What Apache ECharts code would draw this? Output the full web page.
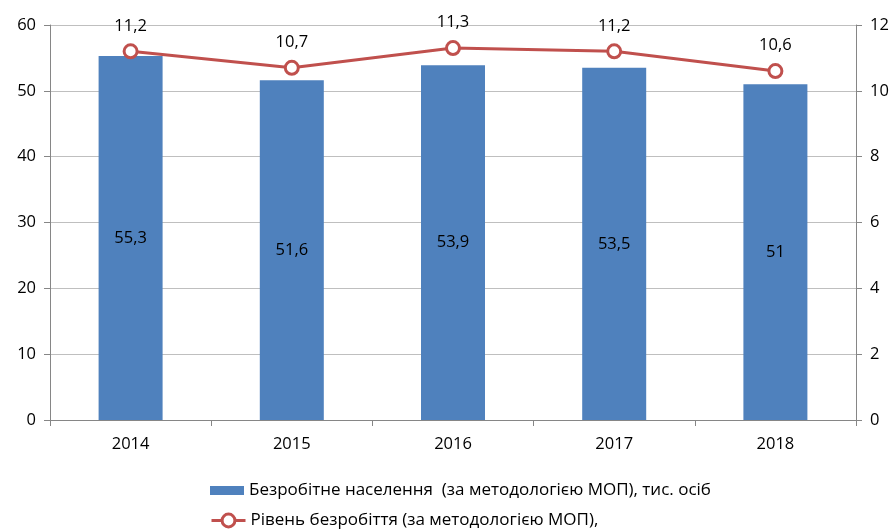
<!DOCTYPE html>
<html>
<head>
<meta charset="utf-8">
<script src="https://cdn.jsdelivr.net/npm/echarts@6/dist/echarts.min.js"></script>
<style>
html,body{margin:0;padding:0;background:#fff;}
#chart{width:894px;height:529px;}
</style>
</head>
<body>
<div id="chart"></div>
<script>
var categories = ['2014', '2015', '2016', '2017', '2018'];
var unemployed = [55.3, 51.6, 53.9, 53.5, 51];
var rate = [11.2, 10.7, 11.3, 11.2, 10.6];
var barName = 'Безробітне населення  (за методологією МОП), тис. осіб';
var lineName = 'Рівень безробіття (за методологією МОП),';

var FONT = '"Open Sans", "DejaVu Sans", sans-serif';
var FS = 16.5;
function comma(p) { return String(p.value).replace('.', ','); }

var chart = echarts.init(document.getElementById('chart'));
chart.setOption({
  animation: false,
  textStyle: { fontFamily: FONT },
  grid: { left: 50, right: 38, top: 25, bottom: 109, containLabel: false },
  legend: [
    {
      data: [{ name: barName, icon: 'rect' }],
      left: 205, top: 477, itemWidth: 34, itemHeight: 9, itemGap: 4,
      textStyle: { fontFamily: FONT, fontSize: 17, color: '#000' }
    },
    {
      data: [{ name: lineName, lineStyle: { width: 3, color: '#c0504d' }, itemStyle: { color: '#fff', borderColor: '#c0504d', borderWidth: 3 } }],
      left: 205, top: 507, itemWidth: 34, itemHeight: 16, itemGap: 4,
      textStyle: { fontFamily: FONT, fontSize: 17, color: '#000' }
    }
  ],
  xAxis: {
    type: 'category',
    data: categories,
    axisLine: { lineStyle: { color: '#868686', width: 1 } },
    axisTick: { show: true, length: 6, lineStyle: { color: '#868686' } },
    axisLabel: { fontFamily: FONT, fontSize: FS, color: '#000', margin: 16 }
  },
  yAxis: [
    {
      type: 'value', min: 0, max: 60, interval: 10,
      axisLine: { show: true, lineStyle: { color: '#868686' } },
      axisTick: { show: true, length: 6, lineStyle: { color: '#868686' } },
      splitLine: { lineStyle: { color: '#bfbfbf' } },
      axisLabel: { fontFamily: FONT, fontSize: FS, color: '#000', margin: 14 }
    },
    {
      type: 'value', min: 0, max: 12, interval: 2,
      axisLine: { show: true, lineStyle: { color: '#868686' } },
      axisTick: { show: true, length: 6, lineStyle: { color: '#868686' } },
      splitLine: { show: false },
      axisLabel: { fontFamily: FONT, fontSize: FS, color: '#000', margin: 14 }
    }
  ],
  series: [
    {
      name: barName,
      type: 'bar',
      yAxisIndex: 0,
      data: unemployed,
      barWidth: 64,
      itemStyle: { color: '#4f81bd' },
      label: { show: true, position: 'inside', formatter: comma, fontFamily: FONT, fontSize: FS, color: '#000' }
    },
    {
      name: lineName,
      type: 'line',
      yAxisIndex: 1,
      data: rate,
      symbol: 'circle',
      symbolSize: 13,
      lineStyle: { color: '#c0504d', width: 3 },
      itemStyle: { color: '#fff', borderColor: '#c0504d', borderWidth: 3 },
      label: { show: true, position: 'top', distance: 9, formatter: comma, fontFamily: FONT, fontSize: FS, color: '#000' },
      z: 5
    }
  ]
});
</script>
</body>
</html>
